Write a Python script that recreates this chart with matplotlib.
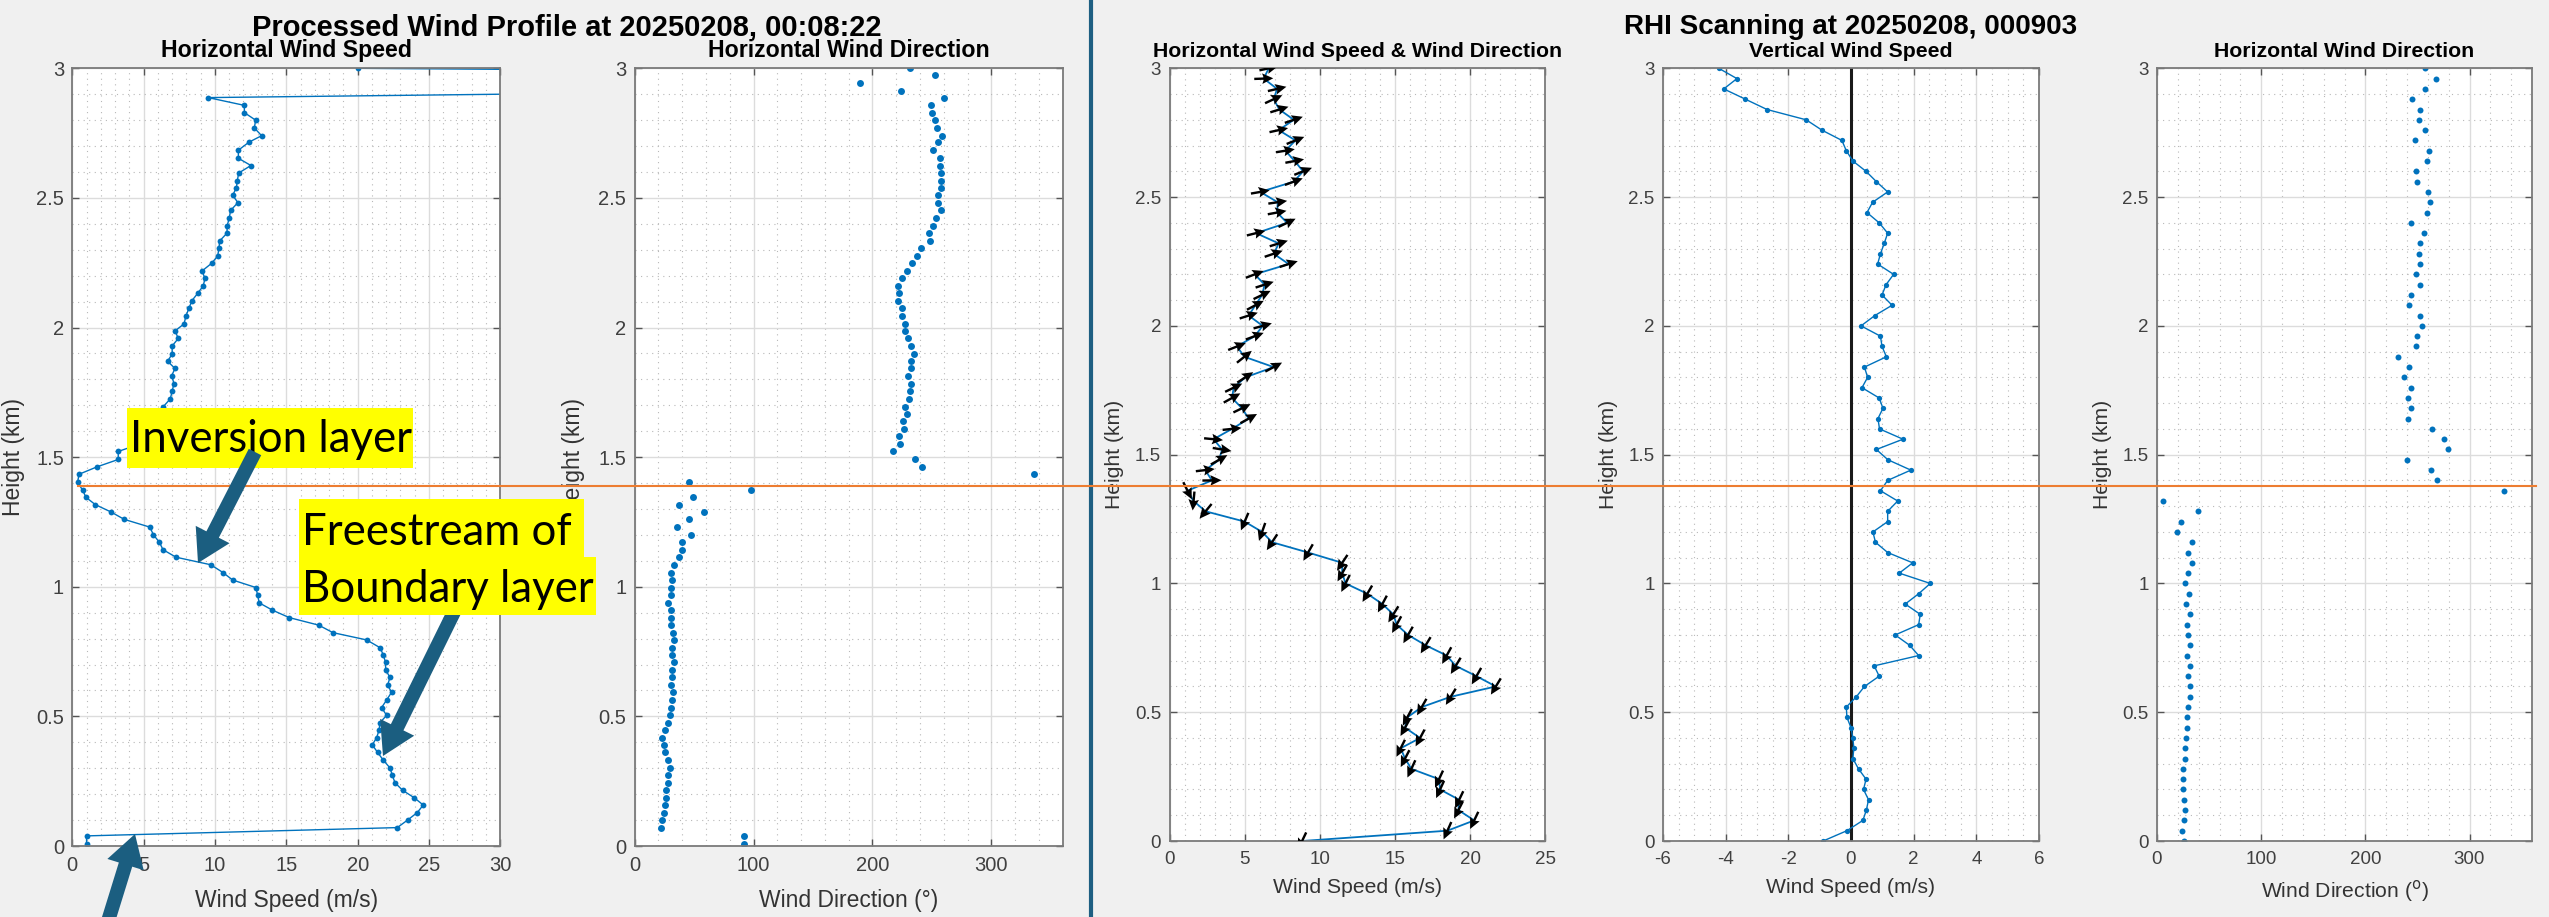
import numpy as np
import matplotlib
matplotlib.use('Agg')
import matplotlib.pyplot as plt
from matplotlib.ticker import MultipleLocator, FuncFormatter
from matplotlib.patches import FancyArrow, Rectangle
from matplotlib.lines import Line2D
from matplotlib.transforms import IdentityTransform

plt.rcParams['font.family'] = ['Liberation Sans', 'DejaVu Sans']
plt.rcParams['axes.unicode_minus'] = False

#%% Processed wind profile (left figure), listed top -> bottom
height_proc = [3.000, 2.973, 2.945, 2.914, 2.887, 2.857, 2.829, 2.800, 2.770, 2.740,
               2.715, 2.684, 2.653, 2.625, 2.596, 2.567, 2.539, 2.510, 2.482, 2.452,
               2.423, 2.393, 2.364, 2.334, 2.306, 2.276, 2.248, 2.218, 2.190, 2.161,
               2.132, 2.104, 2.075, 2.045, 2.014, 1.987, 1.958, 1.929, 1.898, 1.870,
               1.842, 1.814, 1.784, 1.755, 1.725, 1.695, 1.667, 1.638, 1.608, 1.580,
               1.550, 1.522, 1.491, 1.463, 1.434, 1.403, 1.373, 1.345, 1.317, 1.288,
               1.260, 1.230, 1.201, 1.172, 1.143, 1.114, 1.085, 1.055, 1.026, 0.997,
               0.968, 0.938, 0.910, 0.881, 0.852, 0.823, 0.795, 0.765, 0.737, 0.708,
               0.680, 0.650, 0.621, 0.593, 0.563, 0.534, 0.504, 0.476, 0.446, 0.418,
               0.390, 0.361, 0.331, 0.301, 0.273, 0.244, 0.215, 0.186, 0.158, 0.129,
               0.100, 0.071, 0.039, 0.006]

speed_proc = [20.0, 90.0, 70.0, 52.0, 9.53, 12.06, 12.06, 12.85, 12.76, 13.27,
              12.38, 11.64, 11.64, 12.52, 11.66, 11.57, 11.5, 11.24, 11.61, 11.1,
              11.0, 10.86, 10.84, 10.33, 10.28, 10.19, 9.77, 9.09, 9.3, 9.18,
              8.79, 8.39, 8.18, 7.97, 7.83, 7.2, 7.43, 7.0, 7.0, 6.68,
              7.2, 6.96, 7.13, 7.0, 6.87, 6.38, 6.2, 5.9, 5.6, 5.3,
              4.7, 3.22, 3.22, 1.75, 0.47, 0.37, 0.72, 0.96, 1.61, 2.73,
              3.64, 5.44, 5.68, 6.1, 6.36, 7.27, 9.7, 10.56, 11.24, 12.87,
              12.99, 13.1, 14.02, 15.21, 17.27, 18.27, 20.63, 21.57, 21.8, 21.96,
              21.96, 22.27, 22.1, 22.38, 22.03, 21.68, 22.03, 21.57, 21.5, 21.33,
              21.03, 21.4, 21.8, 22.27, 22.43, 22.62, 23.15, 23.97, 24.6, 24.18,
              23.5, 22.78, 1.0, 1.0]

dir_proc = [231.3, 252.3, 189.7, 224.3, 260.1, 249.5, 249.8, 252.3, 254.5, 258.7,
            255.4, 251.2, 256.5, 256.5, 257.9, 257.9, 257.9, 255.4, 255.4, 257.3,
            253.7, 251.2, 247.6, 248.4, 240.6, 237.8, 233.6, 229.4, 225.2, 221.8,
            222.4, 221.8, 224.6, 224.6, 227.1, 227.1, 230.2, 232.7, 235.0, 232.7,
            232.7, 230.2, 232.7, 231.3, 230.8, 227.1, 228.8, 225.7, 226.6, 222.4,
            223.2, 217.6, 235.5, 242.0, 335.7, 45.6, 97.9, 49.2, 37.2, 58.2,
            45.3, 35.8, 47.6, 40.0, 40.0, 37.2, 33.0, 30.2, 31.6, 30.8,
            30.2, 28.0, 30.8, 30.2, 30.8, 32.2, 32.7, 31.6, 31.6, 32.7,
            31.6, 31.3, 30.8, 32.2, 31.6, 30.8, 29.9, 28.0, 25.2, 23.2,
            24.3, 25.7, 28.0, 29.4, 28.0, 28.0, 26.6, 26.6, 25.7, 24.6,
            23.2, 22.4, 92.3, 92.3]

#%% RHI scan (right figure), listed top -> bottom
height_rhi = [3.00, 2.96, 2.92, 2.88, 2.84, 2.80, 2.76, 2.72, 2.68, 2.64,
              2.60, 2.56, 2.52, 2.48, 2.44, 2.40, 2.36, 2.32, 2.28, 2.24,
              2.20, 2.16, 2.12, 2.08, 2.04, 2.00, 1.96, 1.92, 1.88, 1.84,
              1.80, 1.76, 1.72, 1.68, 1.64, 1.60, 1.56, 1.52, 1.48, 1.44,
              1.40, 1.36, 1.32, 1.28, 1.24, 1.20, 1.16, 1.12, 1.08, 1.04,
              1.00, 0.96, 0.92, 0.88, 0.84, 0.80, 0.76, 0.72, 0.68, 0.64,
              0.60, 0.56, 0.52, 0.48, 0.44, 0.40, 0.36, 0.32, 0.28, 0.24,
              0.20, 0.16, 0.12, 0.08, 0.04, 0.00]

speed_rhi = [6.6, 6.27, 7.16, 6.93, 7.31, 8.27, 7.27, 8.38, 7.71, 8.33,
             8.89, 8.27, 6.04, 7.2, 7.16, 7.82, 5.76, 7.27, 6.93, 7.93,
             5.67, 6.33, 6.16, 5.71, 5.27, 6.2, 5.67, 4.49, 4.98, 6.93,
             5.04, 4.27, 4.16, 4.82, 5.27, 4.16, 2.93, 3.5, 3.3, 2.38,
             2.82, 1.2, 1.6, 2.4, 5.0, 6.16, 6.82, 9.22, 11.49, 11.49,
             11.71, 13.16, 14.16, 14.89, 15.11, 15.87, 17.04, 18.44, 19.04, 20.42,
             21.71, 18.71, 16.78, 15.82, 15.67, 16.67, 15.38, 15.67, 16.09, 17.93,
             18.0, 19.27, 19.22, 20.27, 18.49, 8.82]

w_rhi = [-4.22, -3.64, -4.06, -3.37, -2.68, -1.43, -0.93, -0.29, -0.15, 0.06,
         0.48, 0.81, 1.17, 0.69, 0.51, 0.9, 1.17, 1.06, 0.94, 0.85,
         1.36, 1.12, 0.99, 1.31, 0.76, 0.32, 0.94, 0.99, 1.13, 0.43,
         0.53, 0.35, 0.9, 1.02, 0.86, 0.91, 1.66, 0.81, 1.18, 1.91,
         1.17, 0.94, 1.49, 1.17, 1.17, 0.7, 0.78, 1.17, 1.97, 1.54,
         2.53, 2.16, 1.73, 2.21, 2.16, 1.41, 1.87, 2.16, 0.74, 0.9,
         0.43, 0.17, -0.15, -0.13, 0.0, 0.06, 0.09, 0.06, 0.24, 0.48,
         0.4, 0.56, 0.49, 0.38, -0.13, -0.89]

dir_rhi = [257.6, 268.1, 256.9, 245.1, 252.8, 251.2, 257.6, 248.0, 260.8, 259.5,
           248.3, 249.6, 260.1, 261.7, 259.5, 244.2, 256.0, 252.8, 251.2, 252.2,
           249.0, 252.2, 244.2, 241.9, 252.2, 254.4, 249.6, 248.3, 231.4, 241.9,
           236.8, 244.2, 241.0, 244.2, 241.0, 264.0, 275.5, 279.3, 240.3, 263.3,
           269.1, 333.5, 5.4, 39.3, 23.0, 19.2, 33.5, 29.7, 33.5, 29.7,
           26.5, 30.3, 28.1, 31.9, 28.7, 29.7, 31.3, 28.7, 31.3, 29.7,
           31.3, 31.3, 29.7, 28.7, 28.7, 28.1, 26.5, 27.1, 24.6, 24.9,
           24.6, 25.5, 27.1, 25.5, 23.9, 25.5]

#%% Figure set-up
W, H, DPI = 2549, 917, 100
BLUE = '#0072BD'
fig = plt.figure(figsize=(W / DPI, H / DPI), dpi=DPI, facecolor='#f0f0f0')


def add_axes_px(left, top, right, bottom):
    return fig.add_axes([left / W, 1 - bottom / H, (right - left) / W, (bottom - top) / H])


def style(ax, xlim, xmajor, xminor, xlabel, title, fs_tick, fs_lab, fs_title, ylab_x, xlab_y):
    ax.set_facecolor('white')
    ax.set_xlim(*xlim)
    ax.set_ylim(0, 3)
    ax.xaxis.set_major_locator(MultipleLocator(xmajor))
    ax.xaxis.set_minor_locator(MultipleLocator(xminor))
    ax.yaxis.set_major_locator(MultipleLocator(0.5))
    ax.yaxis.set_minor_locator(MultipleLocator(0.1))
    fmt = FuncFormatter(lambda v, p: f'{v:g}')
    ax.xaxis.set_major_formatter(fmt)
    ax.yaxis.set_major_formatter(fmt)
    ax.grid(which='major', color='#dcdcdc', lw=1.0)
    ax.grid(which='minor', color='#b8b8b8', lw=0.8, ls=(0, (1, 4)))
    ax.set_axisbelow(True)
    ax.tick_params(which='major', direction='in', length=5, width=1.0, top=True, right=True,
                   color='#555555', labelcolor='#404040', labelsize=fs_tick)
    ax.tick_params(which='minor', length=0)
    ax.tick_params(axis='x', pad=7)
    ax.tick_params(axis='y', pad=6)
    for s in ax.spines.values():
        s.set_color('#7a7a7a')
        s.set_linewidth(1.3)
    ax.set_xlabel(xlabel, fontsize=fs_lab, color='#333333')
    ax.set_ylabel('Height (km)', fontsize=fs_lab, color='#333333')
    ax.xaxis.set_label_coords(0.5, xlab_y)
    ax.yaxis.set_label_coords(ylab_x, 0.5)
    ax.set_title(title, fontsize=fs_title, fontweight='bold', pad=8)


#%% Left figure: processed profile
ax1 = add_axes_px(72.3, 68.3, 500.3, 846)
ax1.plot(speed_proc, height_proc, '-o', color=BLUE, lw=1.0, ms=4.2, mew=0)
style(ax1, (0, 30), 5, 1, 'Wind Speed (m/s)', 'Horizontal Wind Speed',
      14.5, 16.5, 16.7, -0.11, -0.055)

ax2 = add_axes_px(634.7, 68.3, 1062.7, 846)
ax2.plot(dir_proc, height_proc, 'o', color=BLUE, ms=5.0, mew=0)
style(ax2, (0, 360), 100, 20, 'Wind Direction (°)', 'Horizontal Wind Direction',
      14.5, 16.5, 16.7, -0.116, -0.055)

#%% Right figure: RHI scanning
ax3 = add_axes_px(1169.5, 68.3, 1545.3, 841)
ax3.plot(speed_rhi, height_rhi, '-', color=BLUE, lw=1.3, zorder=2)
rad = np.radians(dir_rhi)
ax3.quiver(speed_rhi, height_rhi, -np.sin(rad), -np.cos(rad), angles='uv', pivot='middle',
           units='dots', scale_units='dots', scale=1 / 19.0, width=2.4,
           headwidth=4.4, headlength=4.6, headaxislength=4.0, color='black', zorder=3)
style(ax3, (0, 25), 5, 1, 'Wind Speed (m/s)', 'Horizontal Wind Speed & Wind Direction',
      13.5, 15.2, 15.3, -0.121, -0.048)

ax4 = add_axes_px(1663, 68.3, 2039, 841)
ax4.axvline(0, color='#1a1a1a', lw=2.2, zorder=1.9)
ax4.plot(w_rhi, height_rhi, '-o', color=BLUE, lw=1.0, ms=3.8, mew=0)
style(ax4, (-6, 6), 2, 0.5, 'Wind Speed (m/s)', 'Vertical Wind Speed',
      13.5, 15.2, 15.3, -0.119, -0.048)

ax5 = add_axes_px(2157, 68.3, 2532, 841)
ax5.plot(dir_rhi, height_rhi, 'o', color=BLUE, ms=4.3, mew=0)
style(ax5, (0, 360), 100, 20, r'Wind Direction ($^\mathrm{o}$)', 'Horizontal Wind Direction',
      13.5, 15.2, 15.3, -0.121, -0.048)

#%% Figure titles
fig.text(567 / W, 1 - 36 / H, 'Processed Wind Profile at 20250208, 00:08:22',
         ha='center', va='baseline', fontsize=21, fontweight='bold')
fig.text(1851 / W, 1 - 34 / H, 'RHI Scanning at 20250208, 000903',
         ha='center', va='baseline', fontsize=20, fontweight='bold')

#%% Slide annotations: divider, marker line, labels and arrows
fig.add_artist(Line2D([1091 / W, 1091 / W], [0, 1], transform=fig.transFigure,
                      color='#1e5f82', lw=3.0, zorder=4))
fig.add_artist(Line2D([78 / W, 2536 / W], [1 - 486 / H, 1 - 486 / H], transform=fig.transFigure,
                      color='#ed7d31', lw=1.5, zorder=4))


def highlight(x0, y0, x1, y1):
    # yellow text highlight, pixel coords from the top-left of the image
    fig.add_artist(Rectangle((x0, H - y1), x1 - x0, y1 - y0, fc='#ffff00', ec='none',
                             transform=IdentityTransform(), zorder=5))


highlight(127, 408, 413, 468)
highlight(299, 499, 584, 557)
highlight(299, 557, 596, 615)

for label, base in [('Inversion layer', 452), ('Freestream of', 545), ('Boundary layer', 602)]:
    x0 = 130 if label.startswith('Inv') else 302
    fig.text(x0 / W, 1 - base / H, label, family='Lato', fontsize=31.5,
             ha='left', va='baseline', zorder=5.5)

ARROW = '#1b5e80'


def slide_arrow(x0, y0, x1, y1, z):
    # pixel coords measured from the top-left of the image
    fig.add_artist(FancyArrow(x0, H - y0, x1 - x0, -(y1 - y0), width=14, head_width=38,
                              head_length=32, length_includes_head=True, color=ARROW,
                              lw=0, transform=IdentityTransform(), zorder=z))


slide_arrow(255, 452, 198, 563, 6)
slide_arrow(456, 608, 383, 756, 4)
slide_arrow(96, 960, 135, 834, 6)

fig.savefig('out.png', dpi=DPI, facecolor=fig.get_facecolor())
